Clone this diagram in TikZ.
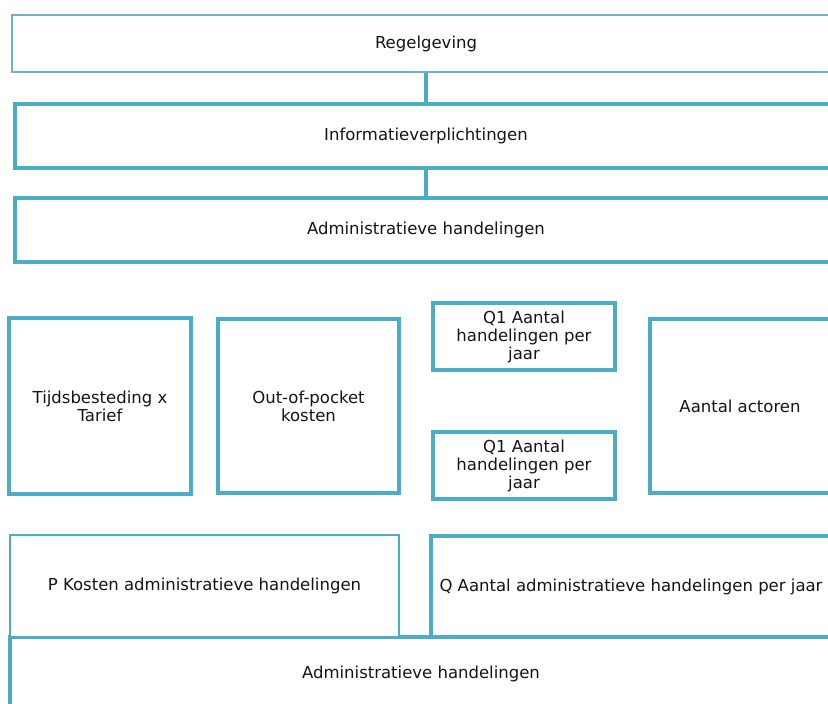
\documentclass[tikz,border=0pt]{standalone}
\usepackage{fontspec}
\setmainfont{DejaVu Sans}
\definecolor{tealthin}{RGB}{112,178,196}
\definecolor{tealbox}{RGB}{75,172,198}
\definecolor{inktext}{RGB}{20,20,26}
\tikzset{
  box/.style={draw=tealbox, line width=3.2pt, fill=white, rectangle, inner sep=0pt,
    align=center, text=inktext, font=\fontsize{16.5}{18}\selectfont},
  thinbox/.style={box, draw=tealthin, line width=2.2pt},
  link/.style={draw=tealbox, line width=3.2pt}
}
\begin{document}
\begin{tikzpicture}[x=1pt,y=-1pt]
\useasboundingbox (0,0) rectangle (828,704);
\fill[white] (0,0) rectangle (828,704);
\clip (0,0) rectangle (828,704);

% top chain
\node[thinbox, minimum width=828pt, minimum height=57pt] (reg) at (426,43.5) {Regelgeving};
\node[box, minimum width=822pt, minimum height=64pt] (info) at (426,136) {Informatieverplichtingen};
\node[box, minimum width=822pt, minimum height=64pt] (adm) at (426,230) {Administratieve handelingen};
\coordinate (spine) at (426,0);
\draw[link] (reg.south -| spine) -- (info.north -| spine);
\draw[link] (info.south -| spine) -- (adm.north -| spine);

% middle row
\node[box, minimum width=182pt, minimum height=176pt] (tijd) at (100,406) {Tijdsbesteding x\\Tarief};
\node[box, minimum width=181pt, minimum height=174pt] (oop) at (308.5,406) {Out-of-pocket\\kosten};
\node[box, minimum width=182pt, minimum height=67pt] (qa) at (524,336.5) {Q1 Aantal\\handelingen per\\jaar};
\node[box, minimum width=182pt, minimum height=67pt] (qb) at (524,465.5) {Q1 Aantal\\handelingen per\\jaar};
\node[box, minimum width=180pt, minimum height=174pt] (act) at (740,406) {Aantal actoren};

% bottom block
\node[box, minimum width=822pt, minimum height=74pt] (totaal) at (421,674) {Administratieve handelingen};
\node[box, line width=2.6pt, minimum width=389pt, minimum height=102pt] (pk) at (204.5,586) {P Kosten administratieve handelingen};
\node[box, minimum width=400pt, minimum height=101pt] (qk) at (631,586.5) {Q Aantal administratieve handelingen per jaar};
\end{tikzpicture}
\end{document}
